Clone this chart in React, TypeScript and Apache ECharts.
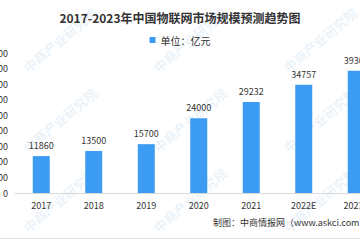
import React, { useEffect, useRef } from "react";
import * as echarts from "echarts";

const categories = ["2017", "2018", "2019", "2020", "2021", "2022E", "2023E"];
const values = [11860, 13500, 15700, 24000, 29232, 34757, 39300];
const seriesName = "单位：亿元";
const titleText = "2017-2023年中国物联网市场规模预测趋势图";
const sourceText = "制图：中商情报网（www.askci.com）";
const watermarkText = "中商产业研究院";
const watermarkSpots = [
  [60, 40], [190, 40], [320, 40],
  [60, 120], [190, 120], [320, 120],
  [60, 200], [190, 200], [320, 200],
];

export default function App() {
  const ref = useRef<HTMLDivElement>(null);
  useEffect(() => {
    const chart = echarts.init(ref.current!, null, { renderer: "svg" });
    const fontFamily = "'Noto Sans CJK SC', 'DejaVu Sans', sans-serif";
    chart.setOption({
      animation: false,
      textStyle: { fontFamily },
      title: {
        text: titleText,
        left: "center",
        top: 6,
        textStyle: { fontSize: 12, fontWeight: "bold", color: "#333", fontFamily },
      },
      legend: {
        data: [seriesName],
        top: 30,
        left: "center",
        icon: "rect",
        itemWidth: 6,
        itemHeight: 6,
        itemGap: 4,
        textStyle: { fontSize: 10, color: "#333" },
      },
      grid: {
        left: 15,
        right: -22.5,
        top: 53,
        bottom: 47,
        containLabel: false,
        outerBoundsMode: "none",
      },
      xAxis: {
        type: "category",
        data: categories,
        axisLine: { lineStyle: { color: "#d9d9d9" } },
        axisTick: { show: false },
        axisLabel: { fontSize: 9, color: "#333", margin: 8, hideOverlap: false },
      },
      yAxis: {
        type: "value",
        min: 0,
        max: 45000,
        interval: 5000,
        axisLine: { show: false },
        axisTick: { show: false },
        splitLine: { show: false },
        axisLabel: { fontSize: 9, color: "#333", margin: 7, formatter: (v: number) => String(v) },
      },
      graphic: [
        ...watermarkSpots.map(([x, y]) => ({
          type: "text",
          x,
          y,
          rotation: Math.PI / 4.5,
          z: -1,
          style: {
            text: watermarkText,
            fontSize: 13,
            fontWeight: "bold",
            fill: "rgba(120,170,220,0.16)",
            align: "center",
            verticalAlign: "middle",
            fontFamily,
          },
        })),
        {
          type: "text",
          left: 213,
          top: 218,
          style: { text: sourceText, fontSize: 9, fill: "#333", fontFamily },
        },
        {
          type: "line",
          shape: { x1: 0, y1: 238.5, x2: 360, y2: 238.5 },
          style: { stroke: "#e0e0e0", lineWidth: 1 },
        },
      ],
      series: [
        {
          name: seriesName,
          type: "bar",
          data: values,
          barWidth: 17,
          itemStyle: { color: "#3c9bf2" },
          label: { show: true, position: "top", distance: 6, fontSize: 9, color: "#333" },
        },
      ],
    });
    return () => chart.dispose();
  }, []);
  return (
    <div
      ref={ref}
      style={{ position: "absolute", left: 0, top: 0, width: 360, height: 240 }}
    />
  );
}
